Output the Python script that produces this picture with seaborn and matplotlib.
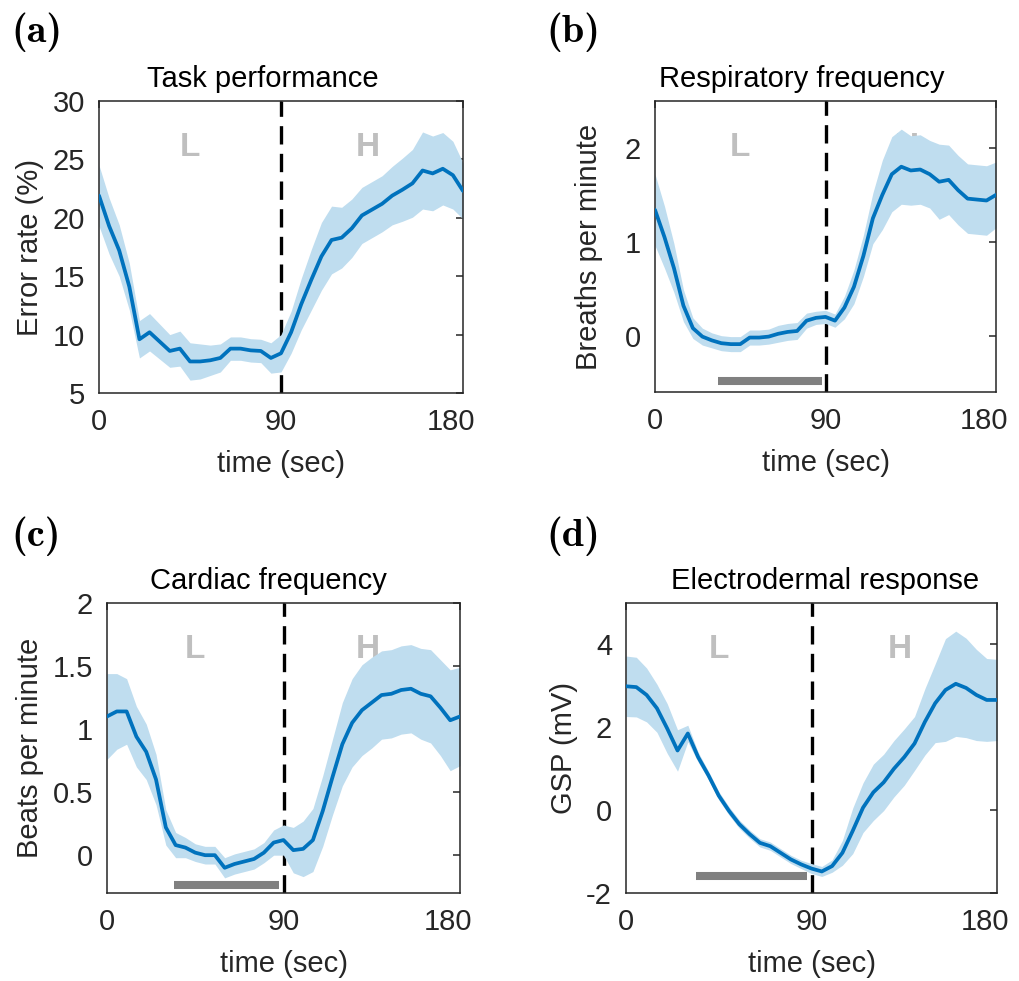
import os
import numpy as np
import pandas as pd
import matplotlib
matplotlib.use("Agg")
import matplotlib.pyplot as plt
import matplotlib.transforms as mtransforms
from matplotlib.font_manager import FontProperties
import seaborn as sns

# ---------------- data ----------------
time = [0, 5, 10, 15, 20, 25, 30, 35, 40, 45, 50, 55, 60, 65, 70, 75, 80, 85, 90,
        95, 100, 105, 110, 115, 120, 125, 130, 135, 140, 145, 150, 155, 160, 165, 170, 175, 180]

a_mean = [21.9, 19.3, 17.2, 14.1, 9.6, 10.2, 9.4, 8.6, 8.8, 7.7, 7.7, 7.8, 8.0, 8.8, 8.8, 8.65,
          8.6, 8.0, 8.4, 10.2, 12.6, 14.7, 16.7, 18.1, 18.3, 19.1, 20.2, 20.7, 21.2, 21.9, 22.4,
          22.95, 24.05, 23.8, 24.2, 23.65, 22.3]
a_err = [2.6, 2.4, 2.2, 2.0, 1.6, 1.6, 1.5, 1.4, 1.5, 1.6, 1.5, 1.3, 1.2, 1.0, 1.0, 1.0, 1.0,
         1.3, 1.6, 1.8, 2.2, 2.6, 2.9, 2.9, 2.6, 2.5, 2.4, 2.4, 2.4, 2.5, 2.7, 2.9, 3.3, 3.2,
         3.1, 2.9, 2.4]

b_mean = [1.34, 1.05, 0.72, 0.32, 0.08, -0.01, -0.05, -0.08, -0.09, -0.09, -0.02, -0.02, -0.01,
          0.02, 0.04, 0.05, 0.16, 0.19, 0.20, 0.16, 0.30, 0.52, 0.85, 1.25, 1.50, 1.72, 1.80,
          1.76, 1.77, 1.72, 1.64, 1.66, 1.55, 1.46, 1.45, 1.44, 1.50]
b_err = [0.38, 0.33, 0.26, 0.17, 0.11, 0.09, 0.08, 0.08, 0.08, 0.08, 0.08, 0.08, 0.08, 0.09,
         0.09, 0.09, 0.08, 0.07, 0.07, 0.07, 0.12, 0.18, 0.22, 0.27, 0.37, 0.40, 0.40, 0.37,
         0.37, 0.36, 0.40, 0.37, 0.37, 0.37, 0.37, 0.37, 0.35]

c_mean = [1.10, 1.14, 1.14, 0.94, 0.82, 0.60, 0.22, 0.08, 0.06, 0.02, 0.0, 0.0, -0.10, -0.07,
          -0.05, -0.03, 0.02, 0.10, 0.12, 0.04, 0.05, 0.12, 0.35, 0.62, 0.88, 1.05, 1.15, 1.21,
          1.27, 1.28, 1.31, 1.32, 1.28, 1.26, 1.17, 1.07, 1.10]
c_err = [0.34, 0.30, 0.26, 0.24, 0.22, 0.20, 0.14, 0.10, 0.08, 0.07, 0.07, 0.07, 0.08, 0.08,
         0.08, 0.08, 0.08, 0.10, 0.12, 0.18, 0.22, 0.25, 0.28, 0.30, 0.33, 0.35, 0.36, 0.36,
         0.35, 0.35, 0.35, 0.35, 0.36, 0.37, 0.38, 0.40, 0.39]

d_mean = [2.99, 2.97, 2.78, 2.46, 1.97, 1.44, 1.85, 1.28, 0.84, 0.35, -0.02, -0.34, -0.58,
          -0.79, -0.87, -1.03, -1.19, -1.31, -1.41, -1.48, -1.35, -1.03, -0.5, 0.06, 0.43,
          0.67, 1.0, 1.28, 1.61, 2.13, 2.58, 2.9, 3.05, 2.95, 2.78, 2.66, 2.66]
d_err = [0.73, 0.72, 0.65, 0.58, 0.60, 0.50, 0.20, 0.12, 0.10, 0.10, 0.10, 0.10, 0.10, 0.10,
         0.10, 0.10, 0.10, 0.10, 0.12, 0.12, 0.15, 0.30, 0.55, 0.60, 0.68, 0.68, 0.68, 0.68,
         0.65, 0.80, 0.95, 1.24, 1.27, 1.20, 1.10, 1.00, 0.98]

panel_letters = ["(a)", "(b)", "(c)", "(d)"]
titles = ["Task performance", "Respiratory frequency", "Cardiac frequency", "Electrodermal response"]
ylabels = ["Error rate (%)", "Breaths per minute", "Beats per minute", "GSP (mV)"]
xticks = [0, 90, 180]
yticks_a = [5, 10, 15, 20, 25, 30]
yticks_b = [0, 1, 2]
yticks_c = [0, 0.5, 1, 1.5, 2]
yticklabels_c = ["0", "0.5", "1", "1.5", "2"]
yticks_d = [-2, 0, 2, 4]
yticklabels_d = ["-2", "0", "2", "4"]
ylims = [(5, 30), (-0.6, 2.5), (-0.3, 2.0), (-2, 5)]
# significance bars (start, end, level); panel (a) has none
bar_start = [None, 33.5, 34, 34]
bar_end = [None, 88, 87.5, 88]
bar_y = [None, -0.48, -0.24, -1.6]

means = [a_mean, b_mean, c_mean, d_mean]
errs = [a_err, b_err, c_err, d_err]

# ---------------- style ----------------
sns.set_theme(style="white")
plt.rcParams["font.family"] = ["Liberation Sans", "DejaVu Sans"]
plt.rcParams["mathtext.fontset"] = "cm"

LINE = "#0072BD"
BAND = "#BFDDEF"
SPINE = "#262626"

cmb_path = os.path.join(matplotlib.get_data_path(), "fonts", "ttf", "cmb10.ttf")
letter_fp = FontProperties(fname=cmb_path, size=29) if os.path.exists(cmb_path) else \
    FontProperties(family="DejaVu Serif", weight="bold", size=26)

fig = plt.figure(figsize=(10.19, 9.81), dpi=100)
W, H = 1019, 981
boxes_px = [(99, 101, 463, 393), (655, 101, 996, 392), (107, 603, 460, 893), (626, 603, 997, 893)]
title_x = [0.45, 0.43, 0.456, 0.536]
letter_pos_px = [(11, 32), (546, 32), (11, 536), (546, 536)]
ylabel_pad = [6, 16, 6, 6]

ytick_sets = [(yticks_a, [str(v) for v in yticks_a]), (yticks_b, [str(v) for v in yticks_b]),
              (yticks_c, yticklabels_c), (yticks_d, yticklabels_d)]

for i in range(4):
    l, t, r, b = boxes_px[i]
    ax = fig.add_axes([l / W, 1 - b / H, (r - l) / W, (b - t) / H])
    df = pd.DataFrame({"time": time, "mean": means[i], "err": errs[i]})
    lo = df["mean"] - df["err"]
    hi = df["mean"] + df["err"]

    ax.axvline(90, color="black", lw=2.4, dashes=(5.5, 2.8), zorder=1)
    ax.text(45, 0.84, "L", transform=ax.get_xaxis_transform(), ha="center", va="center",
            fontsize=24, fontweight="bold", color="#BFBFBF", zorder=1.5)
    ax.text(133, 0.84, "H", transform=ax.get_xaxis_transform(), ha="center", va="center",
            fontsize=24, fontweight="bold", color="#BFBFBF", zorder=1.5)
    ax.fill_between(df["time"], lo, hi, color=BAND, lw=0, zorder=2)
    sns.lineplot(data=df, x="time", y="mean", ax=ax, color=LINE, linewidth=2.7, zorder=4)
    if bar_start[i] is not None:
        ax.hlines(bar_y[i], bar_start[i], bar_end[i], color="#808080", lw=5.8, zorder=3,
                  capstyle="butt")

    ax.set_xlim(0, 180)
    ax.set_ylim(*ylims[i])
    ax.set_xticks(xticks)
    ax.set_xticklabels([str(v) for v in xticks])
    ax.set_yticks(ytick_sets[i][0])
    ax.set_yticklabels(ytick_sets[i][1])
    ax.tick_params(direction="in", length=5, width=1.1, top=True, right=True,
                   labelsize=21, colors=SPINE)
    ax.tick_params(axis="x", pad=11)
    ax.tick_params(axis="y", pad=10)
    # last x tick label pulled left so it ends near the axis edge
    lab = ax.get_xticklabels()[-1]
    lab.set_transform(lab.get_transform() +
                      mtransforms.ScaledTranslation(-12 / 100, 0, fig.dpi_scale_trans))
    for s in ax.spines.values():
        s.set_color(SPINE)
        s.set_linewidth(1.1)
        s.set_visible(True)
    ax.set_xlabel("time (sec)", fontsize=21, color=SPINE, labelpad=10)
    ax.set_ylabel(ylabels[i], fontsize=21, color=SPINE, labelpad=ylabel_pad[i])
    ax.set_title(titles[i], fontsize=21, color="black", x=title_x[i], pad=10)

    lx, ly = letter_pos_px[i]
    fig.text(lx / W, 1 - ly / H, panel_letters[i], fontproperties=letter_fp,
             ha="left", va="center", color="black")

fig.savefig("out.png", dpi=100)
